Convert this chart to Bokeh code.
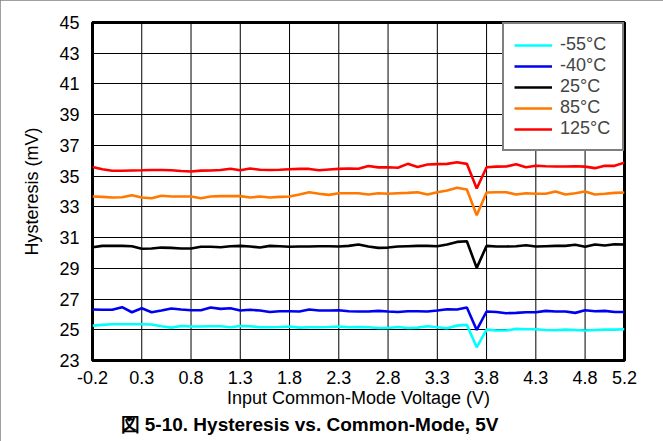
from bokeh.plotting import figure
from bokeh.models import Legend, LegendItem, Title, FixedTicker, Range1d, PrintfTickFormatter, Span
from bokeh.embed import file_html
from bokeh.resources import INLINE

x_v = [-0.2, -0.1, 0.0, 0.1, 0.2, 0.3, 0.4, 0.5, 0.6, 0.7, 0.8, 0.9, 1.0, 1.1, 1.2,
       1.3, 1.4, 1.5, 1.6, 1.7, 1.8, 1.9, 2.0, 2.1, 2.2, 2.3, 2.4, 2.5, 2.6, 2.7,
       2.8, 2.9, 3.0, 3.1, 3.2, 3.3, 3.4, 3.5, 3.6, 3.7, 3.8, 3.9, 4.0, 4.1, 4.2,
       4.3, 4.4, 4.5, 4.6, 4.7, 4.8, 4.9, 5.0, 5.1, 5.2]

m55 = [25.27, 25.32, 25.36, 25.36, 25.36, 25.36, 25.34, 25.23, 25.14, 25.25, 25.21, 25.21, 25.23, 25.23, 25.16,
       25.25, 25.23, 25.16, 25.16, 25.18, 25.21, 25.14, 25.16, 25.16, 25.18, 25.21, 25.16, 25.18, 25.16, 25.12,
       25.12, 25.18, 25.12, 25.14, 25.23, 25.16, 25.10, 25.27, 25.32, 23.86, 25.01, 24.95, 24.95, 25.06, 25.03,
       25.03, 24.99, 24.97, 25.01, 24.99, 24.95, 24.99, 25.01, 25.01, 25.03]
m40 = [26.32, 26.30, 26.30, 26.47, 26.14, 26.40, 26.14, 26.25, 26.38, 26.32, 26.27, 26.27, 26.45, 26.36, 26.40,
       26.25, 26.30, 26.25, 26.16, 26.21, 26.21, 26.19, 26.32, 26.25, 26.25, 26.27, 26.21, 26.19, 26.19, 26.23,
       26.19, 26.16, 26.21, 26.21, 26.19, 26.25, 26.34, 26.32, 26.45, 24.99, 26.19, 26.16, 26.08, 26.10, 26.14,
       26.14, 26.23, 26.19, 26.19, 26.10, 26.27, 26.21, 26.23, 26.16, 26.16]
p25 = [30.37, 30.46, 30.46, 30.46, 30.44, 30.27, 30.29, 30.35, 30.33, 30.29, 30.29, 30.40, 30.40, 30.37, 30.44,
       30.46, 30.42, 30.35, 30.46, 30.44, 30.40, 30.42, 30.42, 30.44, 30.44, 30.42, 30.46, 30.55, 30.42, 30.33,
       30.35, 30.42, 30.44, 30.46, 30.46, 30.44, 30.55, 30.72, 30.76, 29.03, 30.46, 30.42, 30.42, 30.44, 30.50,
       30.42, 30.44, 30.46, 30.46, 30.53, 30.40, 30.55, 30.48, 30.57, 30.55]
p85 = [33.67, 33.65, 33.61, 33.63, 33.76, 33.61, 33.56, 33.72, 33.67, 33.67, 33.67, 33.56, 33.67, 33.70, 33.70,
       33.70, 33.61, 33.67, 33.61, 33.65, 33.67, 33.80, 33.95, 33.85, 33.78, 33.89, 33.89, 33.89, 33.80, 33.89,
       33.85, 33.89, 33.91, 33.95, 33.80, 33.95, 34.06, 34.24, 34.13, 32.45, 33.93, 33.95, 33.95, 33.80, 33.89,
       33.85, 33.85, 34.00, 33.80, 33.89, 34.00, 33.80, 33.85, 33.91, 33.93]
p125 = [35.60, 35.45, 35.35, 35.35, 35.37, 35.38, 35.40, 35.40, 35.38, 35.33, 35.30, 35.36, 35.37, 35.40, 35.48,
        35.38, 35.50, 35.42, 35.40, 35.42, 35.45, 35.47, 35.47, 35.38, 35.43, 35.47, 35.50, 35.48, 35.66, 35.57,
        35.58, 35.55, 35.80, 35.60, 35.76, 35.78, 35.80, 35.90, 35.80, 34.20, 35.58, 35.62, 35.63, 35.77, 35.58,
        35.68, 35.64, 35.63, 35.63, 35.64, 35.62, 35.52, 35.68, 35.67, 35.88]

series_names = ["-55°C", "-40°C", "25°C", "85°C", "125°C"]
series_vals = [m55, m40, p25, p85, p125]
series_colors = ["#00FFFF", "#0000F0", "#000000", "#FF7800", "#FF0000"]

x_ticks = [-0.2, 0.3, 0.8, 1.3, 1.8, 2.3, 2.8, 3.3, 3.8, 4.3, 4.8, 5.2]
y_ticks = [23, 25, 27, 29, 31, 33, 35, 37, 39, 41, 43, 45]

FONT = "Liberation Sans"
FS = "18px"

p = figure(width=663, height=441, output_backend="svg", toolbar_location=None,
           x_range=Range1d(-0.2, 5.2), y_range=Range1d(23, 45),
           min_border_left=92, min_border_right=39, min_border_top=22, min_border_bottom=81,
           background_fill_color="white", border_fill_color="white",
           styles={"outline": "1px solid #808080", "outline-offset": "-1px"})

p.outline_line_color = "black"
p.outline_line_width = 3

p.xaxis.ticker = FixedTicker(ticks=x_ticks)
p.yaxis.ticker = FixedTicker(ticks=y_ticks)
p.xaxis.formatter = PrintfTickFormatter(format="%.1f")
p.yaxis.formatter = PrintfTickFormatter(format="%d")

for ax in (p.xaxis[0], p.yaxis[0]):
    ax.axis_line_color = None
    ax.major_tick_line_color = None
    ax.minor_tick_line_color = None
    ax.major_label_text_font = FONT
    ax.major_label_text_font_size = FS
    ax.major_label_text_color = "black"
    ax.axis_label_text_font = FONT
    ax.axis_label_text_font_size = FS
    ax.axis_label_text_font_style = "normal"
    ax.axis_label_text_color = "black"

p.xaxis.axis_label = "Input Common-Mode Voltage (V)"
p.yaxis.axis_label = "Hysteresis (mV)"
p.xaxis.major_label_standoff = 4
p.xaxis.axis_label_standoff = 1
p.yaxis.major_label_standoff = 7
p.yaxis.axis_label_standoff = 14

p.xgrid.visible = False
p.ygrid.ticker = FixedTicker(ticks=y_ticks)
p.ygrid.grid_line_color = "black"
p.ygrid.grid_line_width = 1
for t in x_ticks:
    p.add_layout(Span(location=t, dimension="height", line_color="black", line_width=1, level="underlay"))

items = []
for name, vals, col in zip(series_names, series_vals, series_colors):
    r = p.line(x_v, vals, line_color=col, line_width=2.6)
    items.append(LegendItem(label=name, renderers=[r]))

legend = Legend(items=items, location="top_right", margin=0, padding=10, spacing=0,
                label_height=20, glyph_height=20, glyph_width=38, label_standoff=8,
                label_width=52,
                label_text_font=FONT, label_text_font_size=FS,
                border_line_color="black", border_line_width=2.5,
                background_fill_color="white", background_fill_alpha=1)
p.add_layout(legend)

caption = Title(text="図 5-10. Hysteresis vs. Common-Mode, 5V", align="left", offset=28,
                text_font=FONT, text_font_size="19px", text_font_style="bold",
                text_color="black", standoff=2)
p.add_layout(caption, "below")

open("out.html", "w").write(file_html(p, INLINE))
